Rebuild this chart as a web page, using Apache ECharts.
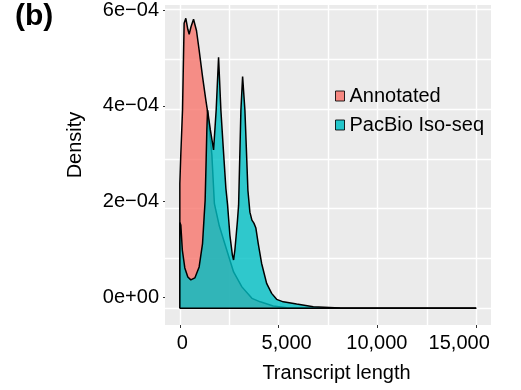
<!DOCTYPE html>
<html><head><meta charset="utf-8">
<script src="https://cdn.jsdelivr.net/npm/echarts@6/dist/echarts.min.js"></script>
<style>html,body{margin:0;padding:0;background:#fff}#c{width:521px;height:390px}</style>
</head><body><div id="c"></div>
<script>
// ---- data (x: transcript length in bp, y: density in units of 1e-4) ----
const seriesNames = ['Annotated', 'PacBio Iso-seq'];
const annotatedLength = [0, 1, 51, 137, 218, 304, 405, 473, 567, 694, 845, 978, 1150, 1317, 1404, 1520, 1622, 1750, 2000, 2296, 2721, 3142, 3649, 4070, 4728, 5408, 7000, 10000, 15000];
const annotatedDensity = [0, 2.5, 3.1, 3.98, 5.72, 5.82, 5.6, 5.5, 5.65, 5.8, 5.57, 5.18, 4.65, 4.18, 3.95, 3.5, 3.08, 2.1, 1.65, 1.27, 0.73, 0.43, 0.2, 0.13, 0.046, 0.012, 0.004, 0.002, 0.001];
const pacbioLength = [0, 1, 51, 127, 253, 405, 557, 760, 978, 1150, 1231, 1282, 1333, 1368, 1404, 1546, 1708, 1840, 1961, 2078, 2205, 2331, 2418, 2534, 2660, 2721, 2787, 2850, 2915, 2975, 3092, 3178, 3294, 3370, 3446, 3547, 3649, 3750, 3850, 3969, 4141, 4394, 4648, 4901, 5236, 5914, 6755, 8109, 10000, 12000, 15000];
const pacbioDensity = [0, 1.72, 1.67, 1.17, 0.81, 0.63, 0.57, 0.61, 0.83, 1.3, 1.84, 2.17, 2.98, 3.58, 3.98, 3.58, 3.18, 3.98, 5.04, 3.98, 3.18, 2.41, 2.07, 1.47, 1.07, 0.97, 1.17, 1.45, 1.75, 2.07, 3.98, 4.65, 3.98, 3.18, 2.37, 1.93, 1.77, 1.71, 1.61, 1.3, 0.9, 0.5, 0.3, 0.18, 0.13, 0.086, 0.032, 0.006, 0.003, 0.002, 0.001];
const baselineLength = [0, 15000];
const baselineDensity = [0, 0];
const xTickValues = [0, 5000, 10000, 15000];
const xMinorValues = [2500, 7500, 12500];
const xTickLabels = ['0', '5,000', '10,000', '15,000'];
const yTickValues = [0, 2, 4, 6];
const yMinorValues = [1, 3, 5];
const yTickLabels = ['0e+00', '2e\u221204', '4e\u221204', '6e\u221204'];
const xTitle = 'Transcript length';
const yTitle = 'Density';
const panelLabel = '(b)';

// ---- chart ----
const FONT = '"Liberation Sans", Arial, sans-serif';
const zip = (a, b) => a.map((v, i) => [v, b[i]]);
const xPad = [[0, 0, 0, 5], [0, 0, 0, 16], [0, 1, 0, 0], [0, 34, 0, 0]];
const xRich = {};
xPad.forEach((p, i) => {
  xRich['s' + i] = { fontSize: 20, fontFamily: FONT, color: '#000', padding: p };
});

const chart = echarts.init(document.getElementById('c'), null, { renderer: 'canvas' });
chart.setOption({
  animation: false,
  backgroundColor: '#fff',
  textStyle: { fontFamily: FONT },
  title: { text: panelLabel, left: 15, top: 2, padding: 0,
    textStyle: { fontSize: 30, fontWeight: 'bold', color: '#000', fontFamily: FONT } },
  grid: { left: 165, top: 5, width: 326, height: 320, show: true,
    backgroundColor: '#EBEBEB', borderWidth: 0 },
  legend: {
    data: seriesNames, orient: 'vertical', left: 335, top: 86, padding: 0,
    icon: 'rect', itemWidth: 9, itemHeight: 10, itemGap: 9,
    itemStyle: { borderColor: '#000', borderWidth: 1, opacity: 0.85 },
    textStyle: { fontSize: 20, lineHeight: 20, color: '#000', fontFamily: FONT }
  },
  xAxis: [
    { type: 'value', min: -750, max: 15750,
      axisLine: { show: false, onZero: false },
      axisTick: { show: false, customValues: xTickValues.concat(xMinorValues) },
      axisLabel: { show: false },
      splitLine: { show: true, lineStyle: { color: '#fff', width: 1.4 } } },
    { type: 'value', min: -750, max: 15750, position: 'bottom',
      axisLine: { show: false, onZero: false },
      axisTick: { show: true, length: 3, customValues: xTickValues, lineStyle: { color: '#333' } },
      axisLabel: { customValues: xTickValues, margin: 8,
        formatter: (v) => { const i = xTickValues.indexOf(v); return '{s' + i + '|' + xTickLabels[i] + '}'; },
        rich: xRich },
      splitLine: { show: false },
      name: xTitle, nameLocation: 'middle', nameGap: 38,
      nameTextStyle: { fontSize: 20, color: '#000', fontFamily: FONT, padding: [0, 0, 0, 17] } }
  ],
  yAxis: [
    { type: 'value', min: -0.335, max: 6.087,
      axisLine: { show: false, onZero: false },
      axisTick: { show: false, customValues: yTickValues.concat(yMinorValues) },
      axisLabel: { show: false },
      splitLine: { show: true, lineStyle: { color: '#fff', width: 1.4 } } },
    { type: 'value', min: -0.5785, max: 6.105, position: 'left',
      axisLine: { show: false, onZero: false },
      axisTick: { show: true, length: 2, customValues: yTickValues, lineStyle: { color: '#333' } },
      axisLabel: { customValues: yTickValues, margin: 6, fontSize: 20, color: '#000', fontFamily: FONT,
        formatter: (v) => yTickLabels[yTickValues.indexOf(v)] },
      splitLine: { show: false },
      name: yTitle, nameLocation: 'middle', nameGap: 80,
      nameTextStyle: { fontSize: 20, color: '#000', fontFamily: FONT, padding: [0, 0, 0, 40] } }
  ],
  series: [
    { name: seriesNames[0], type: 'line', xAxisIndex: 0, yAxisIndex: 0, z: 2,
      data: zip(annotatedLength, annotatedDensity), showSymbol: false, smooth: false,
      color: '#F8766D',
      lineStyle: { color: '#000', width: 1.5 },
      areaStyle: { color: '#F8766D', opacity: 0.8, origin: 0 } },
    { name: seriesNames[1], type: 'line', xAxisIndex: 0, yAxisIndex: 0, z: 3,
      data: zip(pacbioLength, pacbioDensity), showSymbol: false, smooth: false,
      color: '#00BFC4',
      lineStyle: { color: '#000', width: 1.5 },
      areaStyle: { color: '#00BFC4', opacity: 0.8, origin: 0 } },
    { name: 'baseline', type: 'line', xAxisIndex: 0, yAxisIndex: 0, z: 4,
      data: zip(baselineLength, baselineDensity), showSymbol: false, silent: true,
      lineStyle: { color: '#000', width: 1.5 } }
  ]
});
</script></body></html>
